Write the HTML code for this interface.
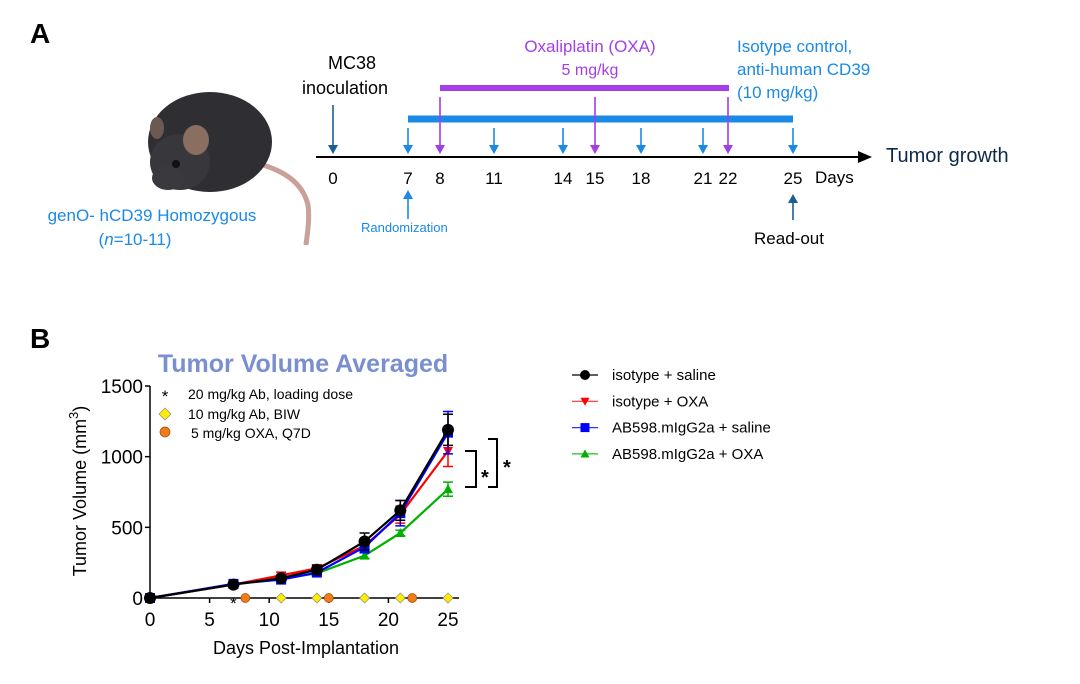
<!DOCTYPE html>
<html><head><meta charset="utf-8"><style>
html,body{margin:0;padding:0;background:#fff}
svg{display:block;font-family:"Liberation Sans",Arial,sans-serif}
</style></head><body>
<svg id="fig" width="1080" height="684" viewBox="0 0 1080 684" xmlns="http://www.w3.org/2000/svg">
<text x="30" y="43" font-size="28" font-weight="bold">A</text>
<text x="30" y="348" font-size="28" font-weight="bold">B</text>

<g>
<path d="M245,160 C280,168 302,180 308,205 C310,220 307,235 306,245" stroke="#c9a09a" stroke-width="5" fill="none"/>
<ellipse cx="210" cy="142" rx="62" ry="50" fill="#2f2f33"/>
<ellipse cx="180" cy="162" rx="30" ry="28" fill="#38383c"/>
<ellipse cx="168" cy="178" rx="16" ry="12" fill="#3a3a3e"/>
<ellipse cx="196" cy="140" rx="13" ry="15" fill="#8a6e60"/>
<ellipse cx="157" cy="128" rx="7" ry="11" fill="#6c5a52"/>
<circle cx="176" cy="164" r="4" fill="#111"/>
</g>
<text x="152" y="221" font-size="17" fill="#1a8ae6" text-anchor="middle">genO- hCD39 Homozygous</text>
<text x="135" y="245" font-size="17" fill="#1a8ae6" text-anchor="middle">(<tspan font-style="italic">n</tspan>=10-11)</text>

<g id="timeline">
<line x1="316" y1="157" x2="862" y2="157" stroke="#000" stroke-width="2"/>
<path d="M872,157 L858,151 L858,163Z" fill="#000"/>
<text x="886" y="162" font-size="20" fill="#0d2a4a">Tumor growth</text>
<text x="352" y="69" font-size="18" text-anchor="middle">MC38</text>
<text x="345" y="94" font-size="18" text-anchor="middle">inoculation</text>
<text x="590" y="52" font-size="17" fill="#a43ee6" text-anchor="middle">Oxaliplatin (OXA)</text>
<text x="590" y="75" font-size="16" fill="#a43ee6" text-anchor="middle">5 mg/kg</text>
<text x="737" y="52" font-size="17" fill="#1a8ae6">Isotype control,</text>
<text x="737" y="75" font-size="17" fill="#1a8ae6">anti-human CD39</text>
<text x="737" y="98" font-size="17" fill="#1a8ae6">(10 mg/kg)</text>
<line x1="440" y1="88" x2="729" y2="88" stroke="#a43ee6" stroke-width="6"/>
<line x1="408" y1="119" x2="793" y2="119" stroke="#1a8ae6" stroke-width="7"/>
<text x="815" y="183" font-size="17">Days</text>
<text x="361" y="232" font-size="13" fill="#1a8ae6">Randomization</text>
<text x="789" y="244" font-size="17" text-anchor="middle">Read-out</text>
</g>

<text x="303" y="372" font-size="25" font-weight="bold" fill="#7a8fcf" text-anchor="middle">Tumor Volume Averaged</text>
<g id="chart"></g>
<text transform="translate(86,491) rotate(-90)" font-size="18" text-anchor="middle">Tumor Volume (mm<tspan dy="-8" font-size="13">3</tspan><tspan dy="8">)</tspan></text>
<text x="306" y="654" font-size="18" text-anchor="middle">Days Post-Implantation</text>

<g>
<text x="165" y="402" font-size="17" text-anchor="middle">*</text>
<text x="188" y="399" font-size="14">20 mg/kg Ab, loading dose</text>
<path d="M165,408 L171,414 L165,420 L159,414Z" fill="#ffee00" stroke="#888" stroke-width="0.7"/>
<text x="188" y="419" font-size="14">10 mg/kg Ab, BIW</text>
<circle cx="165" cy="432" r="5" fill="#f07b1b" stroke="#a04a00" stroke-width="0.7"/>
<text x="191" y="438" font-size="14">5 mg/kg OXA, Q7D</text>
</g>

<g>
<path d="M465,451 L476,451 L476,487 L465,487" fill="none" stroke="#000" stroke-width="2"/>
<text x="481" y="484" font-size="20" font-weight="bold">*</text>
<path d="M488,439 L497,439 L497,487 L488,487" fill="none" stroke="#000" stroke-width="2"/>
<text x="503" y="474" font-size="20" font-weight="bold">*</text>
</g>

<g id="legend"></g>
</svg>
<script>
const NS="http://www.w3.org/2000/svg";
function mk(p,tag,attrs){const e=document.createElementNS(NS,tag);for(const k in attrs)e.setAttribute(k,attrs[k]);p.appendChild(e);return e;}

const tlDays=["0","7","8","11","14","15","18","21","22","25"];
const tlX=[333,408,440,494,563,595,641,703,728,793];
const abDays=["7","11","14","18","21","25"];
const oxaDays=["8","15","22"];
const tl=document.getElementById('timeline');
tlDays.forEach((d,i)=>{const t=mk(tl,'text',{x:tlX[i],y:184,'font-size':17,'text-anchor':'middle'});t.textContent=d;

});
function arrow(x,y1,y2,col,nm){const g=mk(tl,'g',{});


mk(g,'line',{x1:x,y1:y1,x2:x,y2:y2-(y2>y1?8:-8),stroke:col,'stroke-width':1.6});
const dir=y2>y1?-1:1;mk(g,'path',{d:`M${x-5},${y2+dir*9} L${x+5},${y2+dir*9} L${x},${y2}Z`,fill:col});}
arrow(333,105,154,'#1a5f96','inoculation-arrow');
abDays.forEach(d=>{const x=tlX[tlDays.indexOf(d)];arrow(x,128,154,'#1a8ae6','antibody-dose-arrow');});
oxaDays.forEach(d=>{const x=tlX[tlDays.indexOf(d)];arrow(x,97,154,'#a43ee6','oxa-dose-arrow');});
arrow(408,219,190,'#1a8ae6','randomization-arrow');
arrow(793,220,194,'#1a5f96','readout-arrow');

const days=[0,7,11,14,18,21,25];
const isoSaline=[0,95,140,200,400,620,1190];
const isoOxa=[0,95,160,210,370,590,1040];
const abSaline=[0,100,130,180,360,600,1170];
const abOxa=[0,95,135,175,300,460,770];
const errIsoSaline=[0,15,20,30,60,70,110];
const errIsoOxa=[0,15,20,25,40,60,110];
const errAbSaline=[0,15,15,20,40,90,150];
const errAbOxa=[0,10,15,15,20,20,50];
const xTicks=[0,5,10,15,20,25];
const yTicks=[0,500,1000,1500];
const abDoseDays=[11,14,18,21,25];
const oxaDoseDays=[8,15,22];
const loadDay=[7];

const X0=150,X1=448,Y0=598,Y1=386;
const xs=v=>X0+(X1-X0)*v/25;
const ys=v=>Y0-(Y0-Y1)*v/1500;
const c=document.getElementById('chart');
const ax=mk(c,'g',{});


mk(ax,'line',{x1:X0,y1:Y0+1,x2:X0,y2:Y1,stroke:'#000','stroke-width':1.5});
mk(ax,'line',{x1:X0,y1:Y0,x2:459,y2:Y0,stroke:'#000','stroke-width':1.5});
yTicks.forEach(v=>{mk(ax,'line',{x1:X0-5,x2:X0,y1:ys(v),y2:ys(v),stroke:'#000','stroke-width':1.5});
const t=mk(ax,'text',{x:X0-7,y:ys(v)+7,'font-size':19,'text-anchor':'end'});t.textContent=v;

});
xTicks.forEach(v=>{mk(ax,'line',{x1:xs(v),x2:xs(v),y1:Y0,y2:Y0+5,stroke:'#000','stroke-width':1.5});
const t=mk(ax,'text',{x:xs(v),y:Y0+28,'font-size':19,'text-anchor':'middle'});t.textContent=v;

});

const series=[
{name:'isotype + saline',vals:isoSaline,err:errIsoSaline,col:'#000',lc:'#000',m:'circle',k:'isotype-saline'},
{name:'isotype + OXA',vals:isoOxa,err:errIsoOxa,col:'#f00',lc:'#ff3030',m:'down',k:'isotype-oxa'},
{name:'AB598.mIgG2a + saline',vals:abSaline,err:errAbSaline,col:'#00f',lc:'#3030ff',m:'square',k:'ab598-saline'},
{name:'AB598.mIgG2a + OXA',vals:abOxa,err:errAbOxa,col:'#00b000',lc:'#20c020',m:'up',k:'ab598-oxa'}];
function marker(g,m,x,y,col,s){if(m==='circle')return mk(g,'circle',{cx:x,cy:y,r:s,fill:col});
if(m==='square')return mk(g,'rect',{x:x-s,y:y-s,width:2*s,height:2*s,fill:col});
if(m==='down')return mk(g,'path',{d:`M${x-s},${y-s*0.8} L${x+s},${y-s*0.8} L${x},${y+s}Z`,fill:col});
return mk(g,'path',{d:`M${x-s},${y+s*0.8} L${x+s},${y+s*0.8} L${x},${y-s}Z`,fill:col});}
[3,1,2,0].forEach(i=>{const s=series[i];const g=mk(c,'g',{});


mk(g,'polyline',{points:days.map((d,j)=>xs(d)+','+ys(s.vals[j])).join(' '),fill:'none',stroke:s.col,'stroke-width':2.2});
days.forEach((d,j)=>{const x=xs(d),y=ys(s.vals[j]),e=s.err[j]*(Y0-Y1)/1500;
if(e>0){mk(g,'path',{d:`M${x},${y-e} L${x},${y+e} M${x-5},${y-e} L${x+5},${y-e} M${x-5},${y+e} L${x+5},${y+e}`,stroke:s.col,'stroke-width':1.5,fill:'none'});}
const p=marker(g,s.m,x,y,s.col,i===0?6:5);

});});

const dg=mk(c,'g',{});


loadDay.forEach(d=>{const t=mk(dg,'text',{x:xs(d),y:Y0+11,'font-size':17,'text-anchor':'middle'});t.textContent='*';});
abDoseDays.forEach(d=>{const x=xs(d);mk(dg,'path',{d:`M${x},${Y0-5} L${x+5},${Y0} L${x},${Y0+5} L${x-5},${Y0}Z`,fill:'#ffee00',stroke:'#888','stroke-width':0.7});});
oxaDoseDays.forEach(d=>{mk(dg,'circle',{cx:xs(d),cy:Y0,r:4.5,fill:'#f07b1b',stroke:'#a04a00','stroke-width':0.7});});

const lg=document.getElementById('legend');
series.forEach((s,i)=>{const y=375+i*26.3;const g=mk(lg,'g',{});


mk(g,'line',{x1:572,x2:598,y1:y,y2:y,stroke:s.lc,'stroke-width':1.2});
marker(g,s.m,585,y,s.col,s.m==='circle'?5:4.5);
const t=mk(g,'text',{x:612,y:y+5,'font-size':15});t.textContent=s.name;});
</script>
</body></html>
